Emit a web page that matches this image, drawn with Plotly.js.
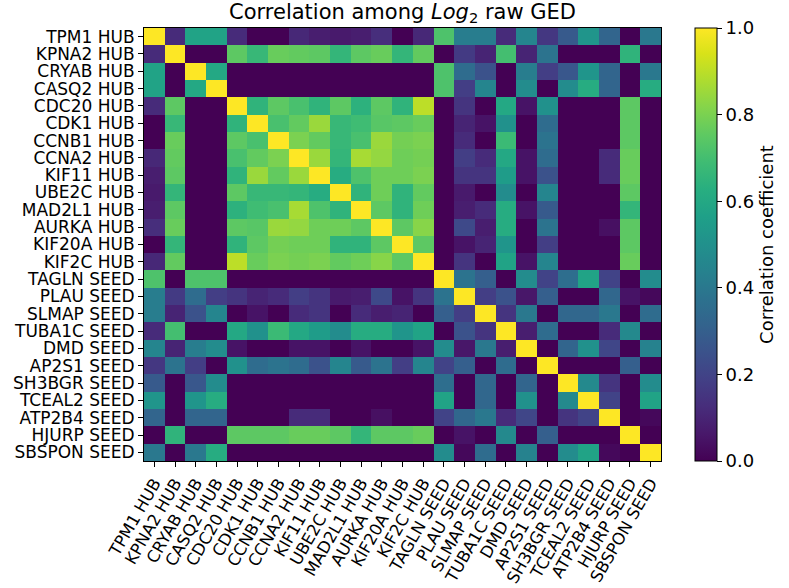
<!DOCTYPE html>
<html>
<head>
<meta charset="utf-8">
<script src="https://cdn.plot.ly/plotly-3.0.1.min.js"></script>
<style>html,body{margin:0;padding:0;background:#fff;}#chart{width:789px;height:588px;}</style>
</head>
<body>
<div id="chart"></div>
<script>
const genes = ["TPM1 HUB","KPNA2 HUB","CRYAB HUB","CASQ2 HUB","CDC20 HUB","CDK1 HUB","CCNB1 HUB","CCNA2 HUB","KIF11 HUB","UBE2C HUB","MAD2L1 HUB","AURKA HUB","KIF20A HUB","KIF2C HUB","TAGLN SEED","PLAU SEED","SLMAP SEED","TUBA1C SEED","DMD SEED","AP2S1 SEED","SH3BGR SEED","TCEAL2 SEED","ATP2B4 SEED","HJURP SEED","SBSPON SEED"];

// correlation rows (negative values clipped to 0 on the colour scale)
const rowTPM1   = [1,0.12,0.58,0.58,0.12,0,0,0.11,0.08,0.07,0.08,0.13,0,0.11, 0.72,0.42,0.42,0.12,0.45,0.16,0.28,0.52,0.32,0,0.4];
const rowKPNA2  = [0.12,1,0,0,0.75,0.67,0.77,0.76,0.75,0.66,0.75,0.77,0.66,0.76, 0,0.17,0.1,0.7,0.1,0.38,0,0,0,0.65,0];
const rowCRYAB  = [0.58,0,1,0.6,0,0,0,0,0,0,0,0,0,0, 0.72,0.35,0.25,0,0.42,0.18,0.27,0.52,0.32,0,0.4];
const rowCASQ2  = [0.58,0,0.6,1,0,0,0,0,0,0,0,0,0,0, 0.72,0.18,0.45,0,0.48,0,0.48,0.62,0.32,0,0.62];
const rowCDC20  = [0.12,0.75,0,0,1,0.65,0.75,0.71,0.65,0.75,0.64,0.75,0.65,0.9, 0,0.15,0,0.6,0.05,0.5,0,0,0,0.75,0];
const rowCDK1   = [0,0.67,0,0,0.65,1,0.71,0.76,0.85,0.67,0.69,0.74,0.75,0.77, 0,0.1,0.05,0.5,0,0.35,0,0,0,0.75,0];
const rowCCNB1  = [0,0.77,0,0,0.75,0.71,1,0.8,0.76,0.67,0.71,0.85,0.79,0.8, 0,0.12,0,0.68,0,0.38,0,0,0,0.75,0];
const rowCCNA2  = [0.11,0.76,0,0,0.71,0.76,0.8,1,0.85,0.66,0.87,0.84,0.78,0.79, 0,0.18,0.12,0.6,0.05,0.35,0,0,0.12,0.77,0];
const rowKIF11  = [0.08,0.75,0,0,0.65,0.85,0.76,0.85,1,0.62,0.72,0.78,0.78,0.8, 0,0.15,0.15,0.55,0.05,0.25,0,0,0.12,0.77,0];
const rowUBE2C  = [0.07,0.66,0,0,0.75,0.67,0.67,0.66,0.62,1,0.65,0.78,0.65,0.76, 0,0.07,0,0.48,0,0.45,0,0,0,0.75,0];
const rowMAD2L1 = [0.08,0.75,0,0,0.64,0.69,0.71,0.87,0.72,0.65,1,0.75,0.65,0.78, 0,0.08,0.12,0.62,0.05,0.28,0,0,0,0.66,0];
const rowAURKA  = [0.13,0.77,0,0,0.75,0.74,0.85,0.84,0.78,0.78,0.75,1,0.75,0.82, 0,0.22,0.08,0.62,0,0.38,0,0,0.04,0.75,0];
const rowKIF20A = [0,0.66,0,0,0.65,0.75,0.79,0.78,0.78,0.65,0.65,0.75,1,0.75, 0,0.05,0.1,0.52,0,0.18,0,0,0,0.75,0];
const rowKIF2C  = [0.11,0.76,0,0,0.9,0.77,0.8,0.79,0.8,0.76,0.78,0.82,0.75,1, 0,0.15,0,0.58,0.05,0.45,0,0,0,0.77,0];
const rowTAGLN  = [0.72,0,0.72,0.72,0,0,0,0,0,0,0,0,0,0, 1,0.38,0.3,0,0.48,0.2,0.36,0.58,0.2,0,0.48];
const rowPLAU   = [0.42,0.17,0.35,0.18,0.15,0.1,0.12,0.18,0.15,0.07,0.08,0.22,0.05,0.15, 0.38,1,0.18,0.25,0.06,0.3,0,0,0.33,0.05,0.02];
const rowSLMAP  = [0.42,0.1,0.25,0.45,0,0.05,0,0.12,0.15,0,0.12,0.08,0.1,0, 0.3,0.18,1,0.15,0.4,0,0.33,0.33,0.4,0,0.35];
const rowTUBA1C = [0.12,0.7,0,0,0.6,0.5,0.68,0.6,0.55,0.48,0.62,0.62,0.52,0.58, 0,0.25,0.15,1,0.08,0.35,0,0,0.12,0.47,0];
const rowDMD    = [0.45,0.1,0.42,0.48,0.05,0,0,0.05,0.05,0,0.05,0,0,0.05, 0.48,0.06,0.4,0.08,1,0,0.32,0.5,0.21,0,0.44];
const rowAP2S1  = [0.16,0.38,0.18,0,0.5,0.35,0.38,0.35,0.25,0.45,0.28,0.38,0.18,0.45, 0.2,0.3,0,0.35,0,1,0,0,0,0.3,0];
const rowSH3BGR = [0.28,0,0.27,0.48,0,0,0,0,0,0,0,0,0,0, 0.36,0,0.33,0,0.32,0,1,0.47,0.15,0,0.48];
const rowTCEAL2 = [0.52,0,0.52,0.62,0,0,0,0,0,0,0,0,0,0, 0.58,0,0.33,0,0.5,0,0.47,1,0.2,0,0.58];
const rowATP2B4 = [0.32,0,0.32,0.32,0,0,0,0.12,0.12,0,0,0.04,0,0, 0.2,0.33,0.4,0.12,0.21,0,0.15,0.2,1,0,0.02];
const rowHJURP  = [0,0.65,0,0,0.75,0.75,0.75,0.77,0.77,0.75,0.66,0.75,0.75,0.77, 0,0.05,0,0.47,0,0.3,0,0,0,1,0];
const rowSBSPON = [0.4,0,0.4,0.62,0,0,0,0,0,0,0,0,0,0, 0.48,0.02,0.35,0,0.44,0,0.48,0.58,0.02,0,1];

const zRows = [rowTPM1,rowKPNA2,rowCRYAB,rowCASQ2,rowCDC20,rowCDK1,rowCCNB1,rowCCNA2,rowKIF11,rowUBE2C,rowMAD2L1,rowAURKA,rowKIF20A,rowKIF2C,rowTAGLN,rowPLAU,rowSLMAP,rowTUBA1C,rowDMD,rowAP2S1,rowSH3BGR,rowTCEAL2,rowATP2B4,rowHJURP,rowSBSPON];
const colorbarTicks = [0,0.2,0.4,0.6,0.8,1.0];

const FONT = "DejaVu Sans, sans-serif";
const trace = {
  type: 'heatmap',
  x: genes, y: genes, z: zRows,
  zmin: 0, zmax: 1,
  colorscale: 'Viridis',
  xgap: 0, ygap: 0,
  colorbar: {
    x: 1.065, xanchor: 'left', xref: 'paper',
    y: 0.5, yanchor: 'middle', len: 1, lenmode: 'fraction',
    thickness: 22, thicknessmode: 'pixels',
    outlinewidth: 1, outlinecolor: '#000',
    tickvals: colorbarTicks, tickformat: '.1f',
    ticks: 'outside', ticklen: 5, tickwidth: 1, tickcolor: '#000',
    tickfont: {family: FONT, size: 18, color: '#000'},
    title: {text: 'Correlation coefficient', side: 'right', font: {family: FONT, size: 18, color: '#000'}},
    xpad: 0, ypad: 0
  }
};

const tickCommon = {
  type: 'category', tickmode: 'linear', tick0: 0, dtick: 1,
  ticks: 'outside', ticklen: 5, tickwidth: 1, tickcolor: '#000',
  showline: true, mirror: true, linecolor: '#000', linewidth: 1,
  showgrid: false, zeroline: false, automargin: false
};

const layout = {
  width: 789, height: 588,
  margin: {l: 144, r: 120, t: 28, b: 127, pad: 0},
  paper_bgcolor: '#fff', plot_bgcolor: '#fff',
  font: {family: FONT, color: '#000'},
  title: {
    text: 'Correlation among <i>Log</i><sub>2</sub> raw GED',
    font: {family: FONT, size: 21, color: '#000'},
    x: 0.5, xref: 'paper', xanchor: 'center',
    y: 0.981, yref: 'container', yanchor: 'middle'
  },
  xaxis: Object.assign({}, tickCommon, {
    tickangle: -60,
    tickfont: {family: FONT, size: 16.5, color: '#000'}
  }),
  yaxis: Object.assign({}, tickCommon, {
    autorange: 'reversed',
    tickfont: {family: FONT, size: 17, color: '#000'}
  })
};

Plotly.newPlot('chart', [trace], layout, {displayModeBar: false, staticPlot: true});
</script>
</body>
</html>
